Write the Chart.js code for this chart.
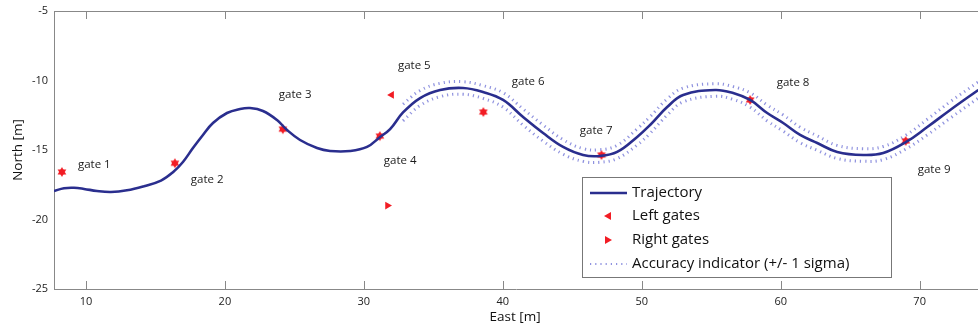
<!DOCTYPE html>
<html>
<head>
<meta charset="utf-8">
<script src="https://cdn.jsdelivr.net/npm/chart.js@4/dist/chart.umd.min.js"></script>
<style>
  html, body { margin: 0; padding: 0; background: #fff; overflow: hidden; }
  canvas { display: block; }
</style>
</head>
<body>
<canvas id="myChart" width="978" height="329"></canvas>
<script>
// trajectory (East / North in metres)
const trajEast = [7.70, 8.42, 9.14, 9.86, 10.79, 11.80, 12.95, 14.18, 15.40, 16.26, 16.98, 17.70, 18.42, 19.14, 20.15, 21.09, 21.81, 22.74, 23.75, 24.47, 25.41, 26.63, 27.57, 29.01, 30.23, 31.17, 31.89, 32.82, 34.05, 35.49, 37.14, 38.58, 40.02, 41.46, 42.90, 44.34, 45.78, 47.00, 48.23, 49.67, 50.60, 51.83, 52.98, 55.28, 56.58, 57.80, 59.03, 60.18, 61.40, 62.63, 64.07, 65.94, 67.38, 69.03, 70.55, 72.20, 74.22];
const trajNorth = [-17.95, -17.75, -17.72, -17.80, -17.95, -18.02, -17.90, -17.60, -17.20, -16.60, -15.86, -14.86, -13.92, -13.06, -12.34, -12.05, -11.98, -12.19, -12.84, -13.56, -14.28, -14.86, -15.07, -15.07, -14.78, -14.06, -13.50, -12.30, -11.26, -10.68, -10.54, -10.83, -11.40, -12.63, -13.78, -14.78, -15.36, -15.43, -15.14, -14.06, -13.20, -11.91, -11.04, -10.68, -10.90, -11.40, -12.34, -13.06, -13.92, -14.50, -15.14, -15.36, -15.22, -14.42, -13.35, -12.12, -10.68];

// accuracy band (+/- 1 sigma)
const bandEast = [32.82, 34.05, 35.49, 37.14, 38.58, 40.02, 41.46, 42.90, 44.34, 45.78, 47.00, 48.23, 49.67, 50.60, 51.83, 52.98, 55.28, 56.58, 57.80, 59.03, 60.18, 61.40, 62.63, 64.07, 65.94, 67.38, 69.03, 70.55, 72.20, 74.22];
const bandUpper = [-11.70, -10.72, -10.20, -10.09, -10.37, -10.88, -12.05, -13.20, -14.26, -14.90, -14.98, -14.66, -13.48, -12.60, -11.33, -10.54, -10.23, -10.44, -10.88, -11.77, -12.48, -13.36, -13.98, -14.67, -14.91, -14.75, -13.92, -12.79, -11.53, -10.10];
const bandLower = [-12.90, -11.80, -11.16, -10.99, -11.29, -11.92, -13.21, -14.36, -15.30, -15.82, -15.88, -15.62, -14.64, -13.80, -12.49, -11.54, -11.13, -11.36, -11.92, -12.91, -13.64, -14.48, -15.02, -15.61, -15.81, -15.69, -14.92, -13.91, -12.71, -11.26];

// gate markers
const starEast = [8.27, 16.4, 24.17, 31.15, 38.6, 47.1, 57.8, 69.0];
const starNorth = [-16.58, -15.95, -13.5, -14.0, -12.27, -15.36, -11.4, -14.35];
const leftGateEast = [32.0];
const leftGateNorth = [-11.04];
const rightGateEast = [31.7];
const rightGateNorth = [-19.0];

// gate labels
const gateNames = ['gate 1', 'gate 2', 'gate 3', 'gate 4', 'gate 5', 'gate 6', 'gate 7', 'gate 8', 'gate 9'];
const gateLabelEast = [9.42, 17.55, 23.88, 31.44, 32.45, 40.65, 45.54, 59.71, 69.86];
const gateLabelNorth = [-16.08, -17.16, -11.04, -15.79, -8.96, -10.11, -13.63, -10.18, -16.44];

const xTicks = [10, 20, 30, 40, 50, 60, 70];
const yTicks = [-5, -10, -15, -20, -25];

const FONT = '"Open Sans", "DejaVu Sans", sans-serif';
const RED = '#f21c24';
const NAVY = '#2a2e8e';
const DOTS = 'rgba(95, 100, 210, 0.7)';
const DASH = [1.2, 4];

function pts(xs, ys) {
    return xs.map(function(x, i) { return { x: x, y: ys[i] }; });
}

// six pointed star, like the red gate markers
function makeStar(r) {
    const c = document.createElement('canvas');
    c.width = c.height = Math.ceil(2 * r + 2);
    const g = c.getContext('2d');
    const cx = c.width / 2, cy = c.height / 2;
    g.fillStyle = RED;
    [0, Math.PI].forEach(function(off) {
        g.beginPath();
        for (let k = 0; k < 3; k++) {
            const a = off - Math.PI / 2 + k * 2 * Math.PI / 3;
            const px = cx + r * Math.cos(a), py = cy + r * Math.sin(a);
            if (k === 0) g.moveTo(px, py); else g.lineTo(px, py);
        }
        g.closePath();
        g.fill();
    });
    return c;
}
const starImg = makeStar(5);

const data = {
    datasets: [
        {
            label: 'Accuracy upper',
            data: pts(bandEast, bandUpper),
            showLine: true,
            borderColor: DOTS,
            borderWidth: 3,
            borderDash: DASH,
            pointRadius: 0,
            tension: 0.4,
        },
        {
            label: 'Accuracy lower',
            data: pts(bandEast, bandLower),
            showLine: true,
            borderColor: DOTS,
            borderWidth: 3,
            borderDash: DASH,
            pointRadius: 0,
            tension: 0.4,
        },
        {
            label: 'Trajectory',
            data: pts(trajEast, trajNorth),
            showLine: true,
            borderColor: NAVY,
            borderWidth: 2.6,
            pointRadius: 0,
            tension: 0.4,
        },
        {
            label: 'Gates',
            data: pts(starEast, starNorth),
            showLine: false,
            pointStyle: starImg,
            pointRadius: 5,
        },
        {
            label: 'Left gates',
            data: pts(leftGateEast, leftGateNorth),
            showLine: false,
            pointStyle: 'triangle',
            rotation: -90,
            pointRadius: 4.5,
            backgroundColor: RED,
            borderColor: RED,
            borderWidth: 0,
        },
        {
            label: 'Right gates',
            data: pts(rightGateEast, rightGateNorth),
            showLine: false,
            pointStyle: 'triangle',
            rotation: 90,
            pointRadius: 4.5,
            backgroundColor: RED,
            borderColor: RED,
            borderWidth: 0,
        },
    ]
};

function drawTri(ctx, x, y, dir) {
    ctx.beginPath();
    ctx.moveTo(x + 4 * dir, y);
    ctx.lineTo(x - 3 * dir, y - 4);
    ctx.lineTo(x - 3 * dir, y + 4);
    ctx.closePath();
    ctx.fill();
}

const decorations = {
    id: 'decorations',
    afterDatasetsDraw: function(chart) {
        const ctx = chart.ctx;
        const xs = chart.scales.x, ys = chart.scales.y;
        const a = chart.chartArea;
        ctx.save();

        // top border and inward tick marks
        ctx.strokeStyle = '#888';
        ctx.lineWidth = 1;
        ctx.beginPath();
        ctx.moveTo(a.left, a.top + 0.5);
        ctx.lineTo(a.right, a.top + 0.5);
        xTicks.forEach(function(v) {
            const px = Math.round(xs.getPixelForValue(v)) + 0.5;
            ctx.moveTo(px, a.top);
            ctx.lineTo(px, a.top + 8);
            ctx.moveTo(px, a.bottom);
            ctx.lineTo(px, a.bottom - 8);
        });
        ctx.stroke();

        // gate labels
        ctx.fillStyle = '#1a1a1a';
        ctx.font = '11.5px ' + FONT;
        ctx.textAlign = 'left';
        ctx.textBaseline = 'middle';
        gateNames.forEach(function(name, i) {
            ctx.fillText(name, xs.getPixelForValue(gateLabelEast[i]), ys.getPixelForValue(gateLabelNorth[i]));
        });

        // legend box
        const bx = 582, by = 177, bw = 309, bh = 100;
        ctx.fillStyle = '#fff';
        ctx.fillRect(bx, by, bw, bh);
        ctx.strokeStyle = '#777';
        ctx.strokeRect(bx + 0.5, by + 0.5, bw, bh);

        const rows = [193, 216, 240, 264];
        const labels = ['Trajectory', 'Left gates', 'Right gates', 'Accuracy indicator (+/- 1 sigma)'];
        // trajectory sample
        ctx.strokeStyle = NAVY;
        ctx.lineWidth = 2.6;
        ctx.beginPath();
        ctx.moveTo(590, rows[0]);
        ctx.lineTo(627, rows[0]);
        ctx.stroke();
        // triangles
        ctx.fillStyle = RED;
        drawTri(ctx, 608, rows[1], -1);
        drawTri(ctx, 608, rows[2], 1);
        // dotted sample
        ctx.strokeStyle = DOTS;
        ctx.lineWidth = 2;
        ctx.setLineDash(DASH);
        ctx.beginPath();
        ctx.moveTo(590, rows[3]);
        ctx.lineTo(627, rows[3]);
        ctx.stroke();
        ctx.setLineDash([]);

        ctx.fillStyle = '#111';
        ctx.font = '15px ' + FONT;
        labels.forEach(function(t, i) {
            ctx.fillText(t, 632, rows[i]);
        });

        // axis titles
        ctx.font = '13.5px ' + FONT;
        ctx.textAlign = 'center';
        ctx.fillText('East [m]', 515, 317);
        ctx.translate(18, (a.top + a.bottom) / 2);
        ctx.rotate(-Math.PI / 2);
        ctx.fillText('North [m]', 0, 0);
        ctx.restore();
    }
};

const config = {
    type: 'scatter',
    data: data,
    options: {
        responsive: false,
        animation: false,
        layout: {
            autoPadding: false, // markers must not push the plot area in
            padding: { top: 11, right: 0, left: 0, bottom: 0 }
        },
        plugins: {
            legend: { display: false },
            tooltip: { enabled: false },
        },
        scales: {
            x: {
                type: 'linear',
                min: 7.7,
                max: 74.2,
                afterBuildTicks: function(scale) {
                    scale.ticks = xTicks.map(function(v) { return { value: v }; });
                },
                afterFit: function(scale) {
                    scale.height = 40;
                    scale.paddingLeft = 0;
                    scale.paddingRight = 0;
                },
                grid: { display: false, drawTicks: false },
                border: { display: true, color: '#888', width: 1 },
                ticks: { padding: 6, color: '#222', font: { family: FONT, size: 11 } },
            },
            y: {
                type: 'linear',
                min: -25,
                max: -5,
                afterBuildTicks: function(scale) {
                    scale.ticks = yTicks.map(function(v) { return { value: v }; });
                },
                afterFit: function(scale) {
                    scale.width = 54;
                    scale.paddingTop = 0;
                    scale.paddingBottom = 0;
                },
                grid: { display: false, drawTicks: false },
                border: { display: true, color: '#888', width: 1 },
                ticks: { padding: 6, color: '#222', font: { family: FONT, size: 11 } },
            }
        }
    },
    plugins: [decorations]
};

const myChart = new Chart(document.getElementById('myChart'), config);
</script>
</body>
</html>
